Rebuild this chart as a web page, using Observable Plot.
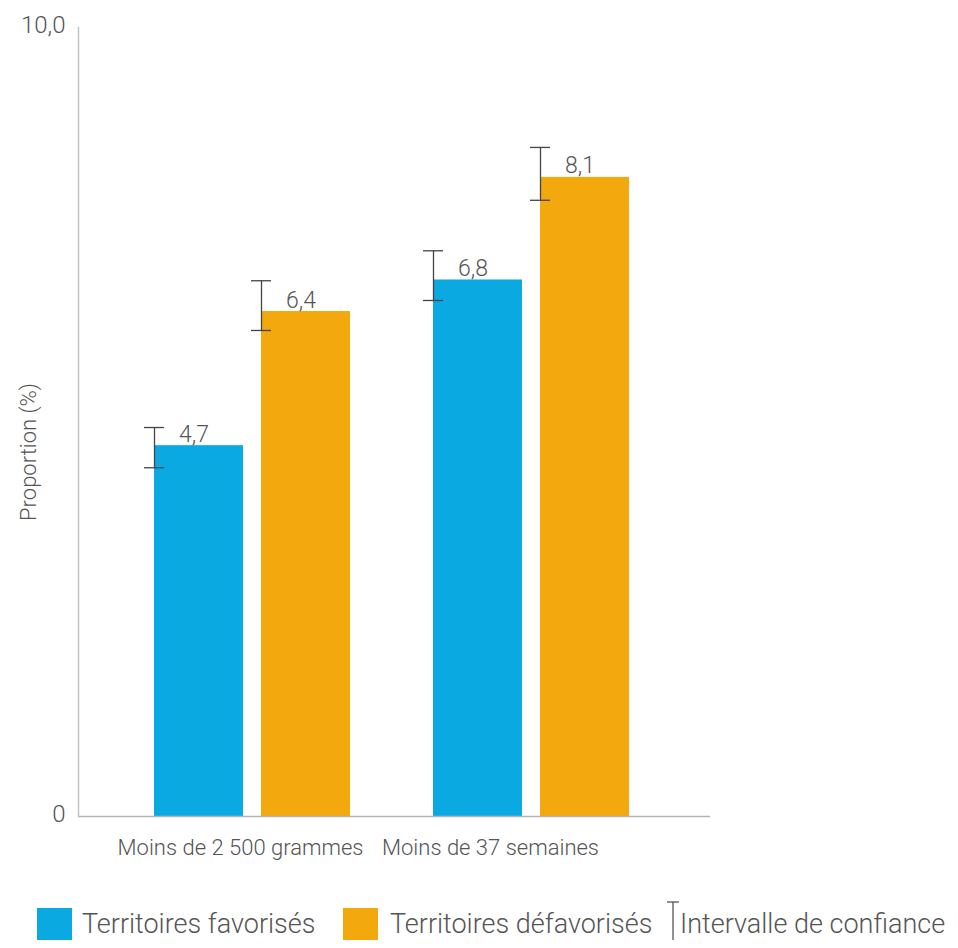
<!DOCTYPE html>
<html>
<head>
<meta charset="utf-8">
<script src="https://cdn.jsdelivr.net/npm/d3@7"></script>
<script src="https://cdn.jsdelivr.net/npm/@observablehq/plot@0.6"></script>
<style>
  body { margin: 0; background: #fff; font-family: Roboto, "Liberation Sans", sans-serif; font-weight: 300; }
  #chart svg { display: block; }
  .legend { position: relative; height: 60px; color: #555; font-size: 27px; }
  .legend > * { position: absolute; }
  .legend .sw { width: 35px; height: 35px; top: 28px; }
  .legend .lab { top: 27px; line-height: 35px; white-space: nowrap; }
</style>
</head>
<body>
<div id="chart"></div>
<script>
const categories = ["Moins de 2 500 grammes", "Moins de 37 semaines"];
const series = ["Territoires favorisés", "Territoires défavorisés"];
const colors = ["#0ba9e1", "#f3a80d"];
const favValues = [4.7, 6.8];
const defValues = [6.4, 8.1];
const favLow = [4.42, 6.54];
const favHigh = [4.93, 7.17];
const defLow = [6.16, 7.81];
const defHigh = [6.79, 8.48];
const yTicks = [0, 10];
const yLabel = "Proportion (%)";
const ciLabel = "Intervalle de confiance";

const rows = [];
categories.forEach((c, i) => {
  rows.push({category: c, series: series[0], value: favValues[i], lo: favLow[i], hi: favHigh[i]});
  rows.push({category: c, series: series[1], value: defValues[i], lo: defLow[i], hi: defHigh[i]});
});
const fav = rows.filter(d => d.series === series[0]);
const def = rows.filter(d => d.series === series[1]);

// layout (pixels)
const BW = 196;      // band width for one category
const BAR = 89;      // bar width
const OFF = BW - BAR; // offset of second bar start
const half = BW / 2;
const textColor = "#555";
const fmt = d => d === 0 ? "0" : d.toFixed(1).replace(".", ",");
const labelShift = [-12, -41]; // horizontal shift of each category label

const plot = Plot.plot({
  width: 958,
  height: 880,
  marginTop: 27,
  marginBottom: 64,
  marginLeft: 78,
  marginRight: 248,
  style: {fontFamily: 'Roboto, "Liberation Sans", sans-serif', fontWeight: 300, fontSize: "22px", color: textColor, background: "#fff"},
  x: {domain: categories, paddingInner: 0.2975, paddingOuter: 0.281, align: 0.484, label: null},
  y: {domain: [0, 10], label: null},
  color: {domain: series, range: colors},
  marks: [
    Plot.barY(fav, {x: "category", y: "value", fill: "series", insetRight: OFF}),
    Plot.barY(def, {x: "category", y: "value", fill: "series", insetLeft: OFF}),
    Plot.ruleY([0], {stroke: "#b3b3b3", strokeWidth: 1.5}),
    Plot.frame({anchor: "left", stroke: "#c4c4c4", strokeWidth: 1.5}),
    // confidence intervals on the left edge of each bar
    Plot.ruleX(fav, {x: "category", y1: "lo", y2: "hi", dx: -half, stroke: "#444", strokeWidth: 1.3}),
    Plot.ruleX(def, {x: "category", y1: "lo", y2: "hi", dx: OFF - half, stroke: "#444", strokeWidth: 1.3}),
    Plot.tickY(fav, {x: "category", y: "lo", dx: -half, insetLeft: half - 10, insetRight: half - 10, stroke: "#444", strokeWidth: 1.3}),
    Plot.tickY(fav, {x: "category", y: "hi", dx: -half, insetLeft: half - 10, insetRight: half - 10, stroke: "#444", strokeWidth: 1.3}),
    Plot.tickY(def, {x: "category", y: "lo", dx: OFF - half, insetLeft: half - 10, insetRight: half - 10, stroke: "#444", strokeWidth: 1.3}),
    Plot.tickY(def, {x: "category", y: "hi", dx: OFF - half, insetLeft: half - 10, insetRight: half - 10, stroke: "#444", strokeWidth: 1.3}),
    // value labels
    Plot.text(fav, {x: "category", y: "value", text: d => fmt(d.value), dx: BAR / 2 - half - 5, dy: -4, lineAnchor: "bottom", fill: textColor, fontSize: 23}),
    Plot.text(def, {x: "category", y: "value", text: d => fmt(d.value), dx: OFF + BAR / 2 - half - 5, dy: -4, lineAnchor: "bottom", fill: textColor, fontSize: 23}),
    Plot.axisY({ticks: yTicks, tickSize: 0, tickPadding: 13, tickFormat: fmt, dy: -2, label: null, fill: textColor, fontSize: 24}),
    ...categories.map((c, i) => Plot.axisX({ticks: [c], tickSize: 0, tickPadding: 23, dx: labelShift[i], label: null, fill: textColor, fontSize: 22})),
    Plot.text([yLabel], {frameAnchor: "left", textAnchor: "middle", rotate: -90, dx: -50, dy: 30, fill: textColor, fontSize: 22})
  ]
});
document.getElementById("chart").appendChild(plot);

// legend
const legend = document.createElement("div");
legend.className = "legend";
const swLeft = [37, 343];
const labLeft = [82, 390];
series.forEach((s, i) => {
  const sw = document.createElement("span");
  sw.className = "sw";
  sw.style.background = colors[i];
  sw.style.left = swLeft[i] + "px";
  const lab = document.createElement("span");
  lab.className = "lab";
  lab.style.left = labLeft[i] + "px";
  lab.textContent = s;
  legend.appendChild(sw);
  legend.appendChild(lab);
});
const icon = document.createElementNS("http://www.w3.org/2000/svg", "svg");
icon.setAttribute("width", 16);
icon.setAttribute("height", 46);
icon.style.left = "665px";
icon.style.top = "20px";
icon.innerHTML = '<g stroke="#555" stroke-width="1.3"><line x1="8" x2="8" y1="2" y2="44"/><line x1="2" x2="14" y1="2" y2="2"/><line x1="2" x2="14" y1="44" y2="44"/></g>';
legend.appendChild(icon);
const ci = document.createElement("span");
ci.className = "lab";
ci.style.left = "680px";
ci.textContent = ciLabel;
legend.appendChild(ci);
document.body.appendChild(legend);
</script>
</body>
</html>
